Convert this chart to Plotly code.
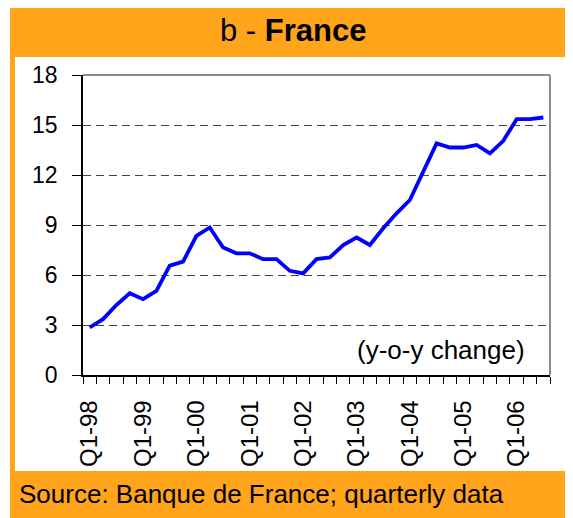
import plotly.graph_objects as go

quarters = [f"Q{q}-{y:02d}" for y in [98, 99, 0, 1, 2, 3, 4, 5, 6] for q in [1, 2, 3, 4]][:35]
values = [2.85, 3.35, 4.2, 4.9,
          4.55, 5.05, 6.56, 6.8,
          8.35, 8.85, 7.65, 7.3,
          7.3, 6.95, 6.95, 6.25,
          6.1, 6.95, 7.05, 7.8,
          8.25, 7.8, 8.8, 9.7,
          10.5, 12.2, 13.9, 13.65,
          13.65, 13.8, 13.3, 14.05,
          15.35, 15.35, 15.45]
label_idx = [i for i, q in enumerate(quarters) if q.startswith("Q1")]
label_text = [quarters[i] for i in label_idx]
y_ticks = [0, 3, 6, 9, 12, 15, 18]

OFF = 8  # default page body margin of the html page
W, H = 573 - OFF, 518 - OFF
# plot area in page pixels
L, R, T, B = 83, 550, 75, 375
pw, ph = R - L, B - T

def px(x):
    return (x - L) / pw

def py(y):
    return (B - y) / ph

ORANGE = "#FFA41B"
FONT = "Liberation Sans, Arial, sans-serif"

fig = go.Figure()
fig.add_trace(go.Scatter(
    x=list(range(len(values))), y=values, mode="lines",
    line=dict(color="#0000FF", width=3.8), hoverinfo="skip", showlegend=False))

shapes = [
    dict(type="rect", xref="paper", yref="paper", x0=px(10), x1=px(580), y0=py(530), y1=py(3),
         fillcolor=ORANGE, line=dict(width=0), layer="below"),
    dict(type="rect", xref="paper", yref="paper", x0=px(15), x1=px(571), y0=py(471), y1=py(57),
         fillcolor="white", line=dict(width=0), layer="below"),
    dict(type="line", xref="paper", yref="paper", x0=0, x1=1, y0=1, y1=1,
         line=dict(color="#8C8C8C", width=2), layer="above"),
    dict(type="line", xref="paper", yref="paper", x0=1, x1=1, y0=0, y1=1,
         line=dict(color="#8C8C8C", width=2), layer="above"),
]

annotations = [
    dict(text="b - <b>France</b>", xref="paper", yref="paper", x=px(293), y=py(30),
         xanchor="center", yanchor="middle", showarrow=False,
         font=dict(family=FONT, size=31, color="black")),
    dict(text="(y-o-y change)", xref="paper", yref="paper", x=px(527), y=py(350),
         xanchor="right", yanchor="middle", showarrow=False,
         font=dict(family=FONT, size=26, color="black")),
    dict(text="Source: Banque de France; quarterly data", xref="paper", yref="paper",
         x=px(17), y=py(494), xanchor="left", yanchor="middle", showarrow=False,
         font=dict(family=FONT, size=26, color="black")),
]

fig.update_layout(
    width=W, height=H,
    margin=dict(l=L - OFF, r=W - (R - OFF), t=T - OFF, b=H - (B - OFF), pad=0, autoexpand=False),
    paper_bgcolor="white", plot_bgcolor="rgba(0,0,0,0)",
    shapes=shapes, annotations=annotations,
    font=dict(family=FONT, color="black"),
    xaxis=dict(range=[-0.5, len(values) - 0.5], tickmode="array", tickvals=label_idx,
               ticktext=label_text, tickangle=-90, ticks="", showgrid=False, zeroline=False,
               showline=True, linecolor="black", linewidth=1.5, automargin=False,
               ticklabelstandoff=14,
               tickfont=dict(family=FONT, size=24, color="black"),
               minor=dict(ticks="outside", tickmode="linear", tick0=-0.5, dtick=1,
                          ticklen=7, tickcolor="black", tickwidth=1, showgrid=False),
               fixedrange=True),
    yaxis=dict(range=[0, 18], tickmode="array", tickvals=y_ticks, ticks="outside",
               ticklen=9, tickcolor="black", tickwidth=1, automargin=False,
               showgrid=True, gridcolor="#444444", gridwidth=1.2, griddash="8px,5px",
               zeroline=False, showline=True, linecolor="black", linewidth=1.5,
               ticklabelstandoff=10,
               tickfont=dict(family=FONT, size=23, color="black"), fixedrange=True),
)

fig.write_html("out.html")
